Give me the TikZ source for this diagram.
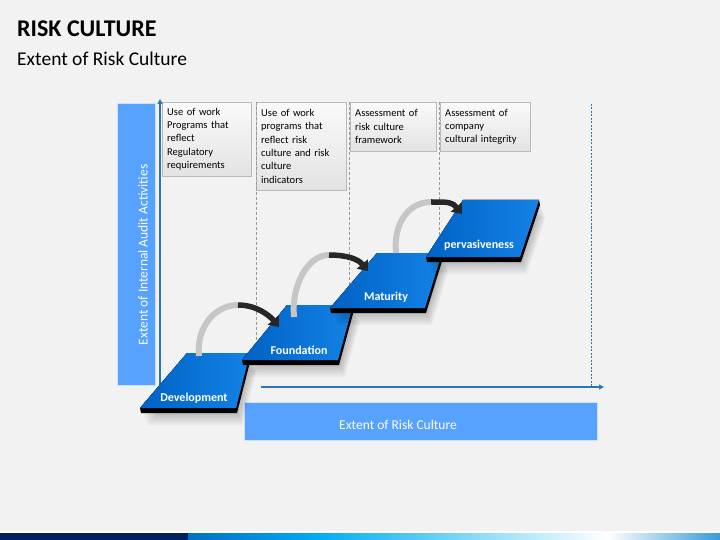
\documentclass[tikz,border=0pt]{standalone}
\usepackage{fontspec}
\setmainfont{Carlito}
\usetikzlibrary{arrows.meta}

\definecolor{slidebg}{HTML}{F2F2F2}
\definecolor{axisblue}{HTML}{2E75B6}
\definecolor{labelblue}{HTML}{57A1FF}
\definecolor{stepdark}{HTML}{0062C4}
\definecolor{steplight}{HTML}{1482E6}
\definecolor{navy}{HTML}{002060}
\definecolor{barblue}{HTML}{0070C0}
\definecolor{barcyan}{HTML}{00B0F0}
\definecolor{barend}{HTML}{3A9AD9}

\tikzset{
  note/.style={draw=gray!55, top color=gray!4, bottom color=gray!22, anchor=north west,
    align=left, font=\fontsize{10.5}{13.3}\selectfont, inner xsep=5pt, inner ysep=2pt},
  steplabel/.style={text=white, font=\bfseries\fontsize{12}{14}\selectfont},
  guide/.style={gray!80, line width=0.9pt, dash pattern=on 3pt off 2pt},
  axis/.style={axisblue, line width=1.2pt, -{Triangle[width=5pt,length=5pt]}},
  axisbox/.style={fill=labelblue, draw=white!70!labelblue, line width=0.6pt},
  axistext/.style={text=white, font=\fontsize{13.5}{16}\selectfont},
  lift/.style={gray!45, line width=6pt},
  swing/.style={black!85, line width=5.5pt, -{Triangle[width=14pt,length=9pt]}},
}

\begin{document}
\begin{tikzpicture}[x=1pt,y=-1pt]
  \useasboundingbox (0,0) rectangle (720,540);
  \fill[slidebg] (0,0) rectangle (720,540);

  % bottom stripe
  \fill[white] (0,531) rectangle (720,533);
  \fill[navy] (0,533) rectangle (188,540);
  \shade[left color=barblue, right color=barcyan] (188,533) rectangle (322,540);
  \shade[left color=barcyan, right color=white] (322,533) rectangle (607,540);
  \shade[left color=white, right color=barend] (607,533) rectangle (720,540);

  % heading
  \node[anchor=base west, inner sep=0pt, font=\bfseries\fontsize{24}{28}\selectfont] (title) at (17,37) {RISK CULTURE};
  \node[anchor=base west, inner sep=0pt, font=\fontsize{19.5}{24}\selectfont] (subtitle) at (17,66) {Extent of Risk Culture};

  % axis labels
  \node[axisbox, minimum width=38pt, minimum height=282pt] (auditbox) at (136,244) {};
  \node[axistext, rotate=90] (audittext) at (143,255) {Extent of Internal Audit Activities};
  \node[axisbox, minimum width=353pt, minimum height=38pt] (culturebox) at (420.5,421) {};
  \node[axistext] (culturetext) at (398,425) {Extent of Risk Culture};

  % notes
  \node[note, text width=79pt, minimum height=74pt] (note1) at (162,102)
    {Use of work\\Programs that\\reflect\\Regulatory\\requirements};
  \node[note, text width=80pt, minimum height=88pt] (note2) at (256,102)
    {Use of work\\programs that\\reflect risk\\culture and risk\\culture\\indicators};
  \node[note, text width=76pt, minimum height=49pt] (note3) at (350,102)
    {Assessment of\\risk culture\\framework};
  \node[note, text width=80pt, minimum height=49pt] (note4) at (440,102)
    {Assessment of\\company\\cultural integrity};

  \foreach \x/\y in {256/360, 349/308, 439/257}
    \draw[guide] (\x,102) -- (\x,\y);
  \draw[axisblue, line width=1pt, dash pattern=on 2pt off 1.5pt] (591,104) -- (591,387);

  % axes
  \coordinate (ybase) at (160,395);
  \coordinate (ytop) at (160,99);
  \coordinate (xbase) at (261,387);
  \coordinate (xend) at (604,387);
  \draw[axis] (ybase) -- (ytop);
  \draw[axis] (xbase) -- (xend);

  % steps
  \foreach \tl/\tr/\ty/\bl/\br/\by/\nm/\txt/\lx/\ly in {
      187/250/353/140/236/408/dev/Development/194/398,
      287/353/305/242/338/360/found/Foundation/299/350,
      377/442/253/330/425/308/mat/Maturity/386/297,
      463/539/200/426/520/257/perv/pervasiveness/479/245} {
    \foreach \s in {3,5,...,17}
      \fill[black, opacity=0.035] (\tl+\s*0.4,\ty+\s) -- (\tr+\s*0.4,\ty+\s) -- (\br+\s*0.4,\by+\s) -- (\bl+\s*0.4,\by+\s) -- cycle;
    \fill[black] (\tl,\ty) -- (\tr,\ty) -- (\tr+1,\ty+5) -- (\br+1,\by+5) -- (\bl+1,\by+5) -- (\bl,\by) -- cycle;
    \fill[left color=stepdark, right color=steplight] (\tl,\ty) -- (\tr,\ty) -- (\br,\by) -- (\bl,\by) -- cycle;
    \node[steplabel] (\nm) at (\lx,\ly) {\txt};
  }

  % curved arrows
  \foreach \i/\fx/\fy/\cx/\cy/\hx/\hy in {
      1/199/356/238/305/279/327,
      2/294/317/329/255/368/271,
      3/396/253/431/202/462/214} {
    \coordinate (foot\i) at (\fx,\fy);
    \coordinate (crest\i) at (\cx,\cy);
    \coordinate (head\i) at (\hx,\hy);
    \draw[lift] (foot\i) .. controls +(-3,-30) and +(-22,0) .. (crest\i);
    \draw[swing] (crest\i) .. controls +(18,0) and +(-10,-12) .. (head\i);
  }
\end{tikzpicture}
\end{document}
